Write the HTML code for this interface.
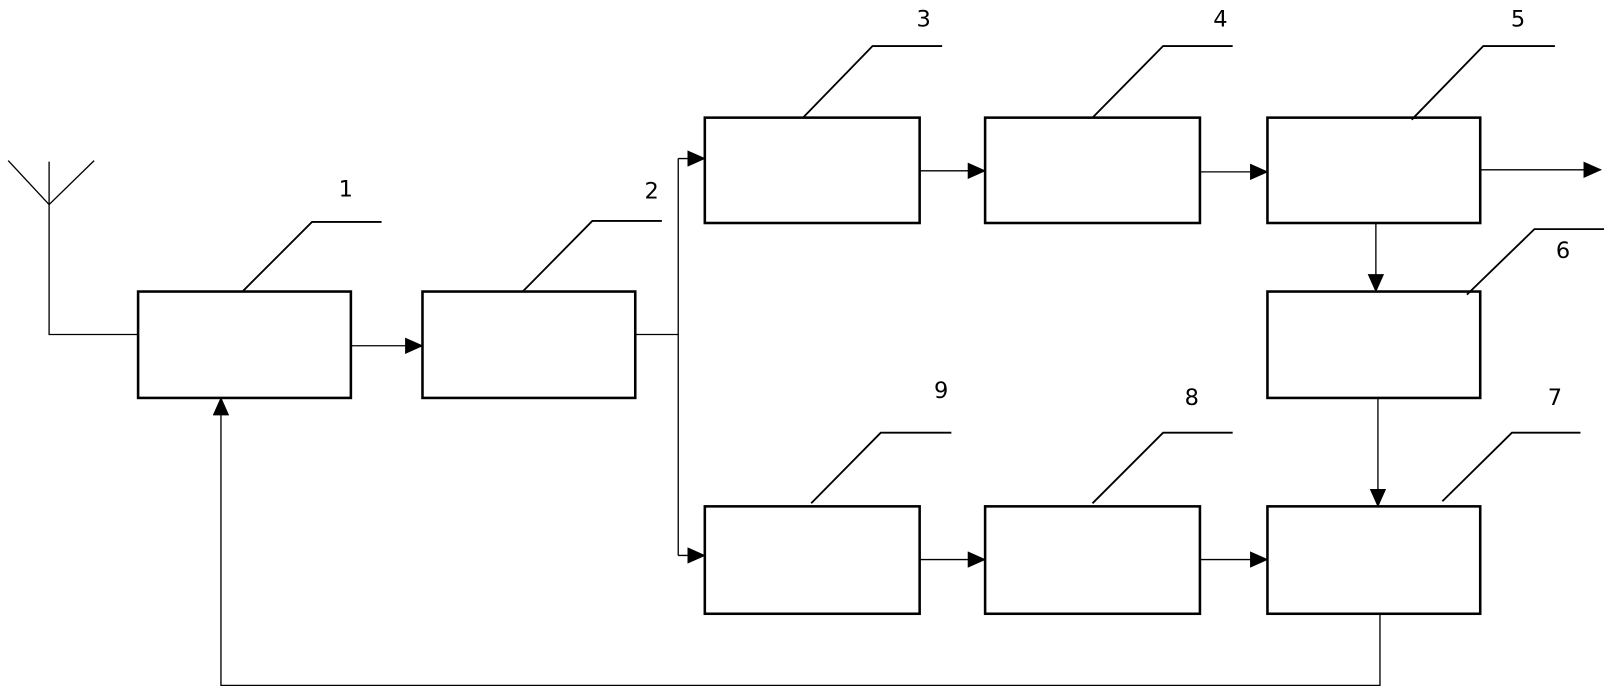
<!DOCTYPE html>
<html><head><meta charset="utf-8"><style>body{margin:0;background:#fff;overflow:hidden}svg{display:block}</style></head><body>
<svg width="1604" height="691" viewBox="0 0 1568 675.5" preserveAspectRatio="none" xmlns="http://www.w3.org/2000/svg">
<defs><marker id="a" markerWidth="18" markerHeight="16" refX="17" refY="8" orient="auto" markerUnits="userSpaceOnUse"><path d="M0,0 L18,8 L0,16 Z" fill="#000"/></marker></defs>
<g fill="#fff" stroke="#000" stroke-width="2.5">
<rect x="135" y="285" width="208" height="104"/>
<rect x="413" y="285" width="208" height="104"/>
<rect x="689" y="115" width="210" height="103"/>
<rect x="963" y="115" width="210" height="103"/>
<rect x="1239" y="115" width="208" height="103"/>
<rect x="1239" y="285" width="208" height="104"/>
<rect x="1239" y="495" width="208" height="105"/>
<rect x="963" y="495" width="210" height="105"/>
<rect x="689" y="495" width="210" height="105"/>
</g>
<g fill="none" stroke="#000" stroke-width="1.3">
<polyline points="8,157 48,200 92,157"/>
<polyline points="48,158 48,327 135,327"/>
<line x1="343" y1="338" x2="413" y2="338" marker-end="url(#a)"/>
<polyline points="621,327 663,327"/>
<line x1="663" y1="155" x2="663" y2="543"/>
<line x1="663" y1="155" x2="689" y2="155" marker-end="url(#a)"/>
<line x1="663" y1="543" x2="689" y2="543" marker-end="url(#a)"/>
<line x1="899" y1="167" x2="963" y2="167" marker-end="url(#a)"/>
<line x1="1173" y1="168" x2="1239" y2="168" marker-end="url(#a)"/>
<line x1="1447" y1="166" x2="1565" y2="166" marker-end="url(#a)"/>
<line x1="1345" y1="218" x2="1345" y2="285" marker-end="url(#a)"/>
<line x1="1347" y1="389" x2="1347" y2="495" marker-end="url(#a)"/>
<line x1="899" y1="547" x2="963" y2="547" marker-end="url(#a)"/>
<line x1="1173" y1="547" x2="1239" y2="547" marker-end="url(#a)"/>
<polyline points="1349,600 1349,670 216,670 216,389" marker-end="url(#a)"/>
</g>
<g fill="none" stroke="#000" stroke-width="1.8">
<polyline points="237,285 305,217 373,217"/>
<polyline points="511,285 579,216 647,216"/>
<polyline points="785,115 853,45 921,45"/>
<polyline points="1068,115 1137,45 1205,45"/>
<polyline points="1380,117 1450,45 1520,45"/>
<polyline points="1434,288 1500,224 1568,224"/>
<polyline points="1410,490 1478,423 1545,423"/>
<polyline points="1068,492 1137,423 1205,423"/>
<polyline points="793,492 861,423 930,423"/>
</g>
<g font-family="DejaVu Sans, sans-serif" font-size="22" text-anchor="middle">
<text x="338" y="192">1</text>
<text x="637" y="194">2</text>
<text x="903" y="26">3</text>
<text x="1193" y="26">4</text>
<text x="1484" y="26">5</text>
<text x="1528" y="252">6</text>
<text x="1520" y="396">7</text>
<text x="1165" y="396">8</text>
<text x="920" y="389">9</text>
</g>
</svg>
</body></html>
